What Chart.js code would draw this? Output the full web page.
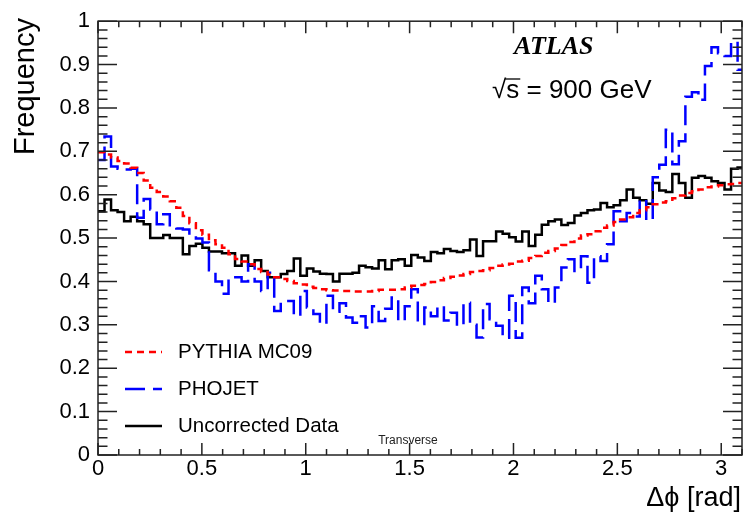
<!DOCTYPE html>
<html>
<head>
<meta charset="utf-8">
<script src="https://cdn.jsdelivr.net/npm/chart.js@4.4.1/dist/chart.umd.min.js"></script>
<style>
  html, body { margin: 0; padding: 0; background: #fff; }
  #contenedor { width: 744px; height: 518px; }
</style>
</head>
<body>
<div id="contenedor"><canvas id="grafico" width="744" height="518"></canvas></div>
<script>
// 100 bins entre 0 y pi
const BIN_WIDTH = Math.PI / 100;

const pythiaMC09 = [
  0.698, 0.693, 0.686, 0.678, 0.672, 0.662, 0.650, 0.633, 0.616, 0.606,
  0.596, 0.585, 0.570, 0.551, 0.534, 0.518, 0.508, 0.495, 0.486, 0.478,
  0.463, 0.452, 0.446, 0.440, 0.429, 0.422, 0.416, 0.410, 0.406, 0.401,
  0.396, 0.393, 0.388, 0.385, 0.382, 0.380, 0.379, 0.378, 0.378, 0.377,
  0.377, 0.377, 0.378, 0.381, 0.381, 0.381, 0.382, 0.386, 0.390, 0.392,
  0.394, 0.399, 0.403, 0.408, 0.411, 0.414, 0.417, 0.422, 0.424, 0.426,
  0.431, 0.436, 0.439, 0.441, 0.446, 0.448, 0.454, 0.459, 0.466, 0.470,
  0.476, 0.484, 0.491, 0.499, 0.506, 0.509, 0.516, 0.524, 0.529, 0.537,
  0.543, 0.548, 0.558, 0.564, 0.571, 0.578, 0.582, 0.585, 0.592, 0.598,
  0.604, 0.608, 0.612, 0.617, 0.619, 0.622, 0.624, 0.625, 0.627, 0.628
];

const phojet = [
  0.680, 0.734, 0.665, 0.660, 0.658, 0.660, 0.547, 0.590, 0.566, 0.532,
  0.555, 0.524, 0.522, 0.520, 0.505, 0.499, 0.490, 0.426, 0.400, 0.372,
  0.410, 0.410, 0.400, 0.440, 0.400, 0.378, 0.420, 0.332, 0.355, 0.355,
  0.321, 0.378, 0.340, 0.325, 0.302, 0.367, 0.330, 0.350, 0.317, 0.305,
  0.320, 0.294, 0.343, 0.309, 0.337, 0.363, 0.309, 0.343, 0.382, 0.302,
  0.340, 0.320, 0.343, 0.310, 0.328, 0.298, 0.351, 0.300, 0.271, 0.348,
  0.313, 0.298, 0.270, 0.367, 0.270, 0.386, 0.350, 0.413, 0.382, 0.350,
  0.386, 0.432, 0.451, 0.424, 0.458, 0.397, 0.458, 0.447, 0.486, 0.562,
  0.539, 0.558, 0.550, 0.589, 0.541, 0.640, 0.669, 0.750, 0.670, 0.723,
  0.826, 0.836, 0.819, 0.897, 0.940, 0.926, 0.920, 0.953, 0.888, 0.888
];

const uncorrectedData = [
  0.562, 0.589, 0.564, 0.560, 0.539, 0.549, 0.539, 0.532, 0.500, 0.500,
  0.507, 0.500, 0.500, 0.463, 0.482, 0.487, 0.478, 0.469, 0.469, 0.465,
  0.465, 0.436, 0.460, 0.436, 0.449, 0.424, 0.410, 0.410, 0.417, 0.424,
  0.453, 0.413, 0.430, 0.423, 0.418, 0.417, 0.400, 0.418, 0.418, 0.420,
  0.436, 0.433, 0.430, 0.449, 0.428, 0.449, 0.451, 0.436, 0.461, 0.455,
  0.447, 0.468, 0.465, 0.475, 0.470, 0.468, 0.472, 0.497, 0.459, 0.493,
  0.493, 0.515, 0.510, 0.502, 0.492, 0.515, 0.482, 0.508, 0.531, 0.539,
  0.543, 0.530, 0.535, 0.552, 0.558, 0.564, 0.566, 0.581, 0.571, 0.576,
  0.587, 0.612, 0.593, 0.587, 0.579, 0.627, 0.610, 0.606, 0.648, 0.627,
  0.593, 0.639, 0.643, 0.639, 0.631, 0.627, 0.612, 0.660, 0.663, 0.663
];

const xTicks = [0, 0.5, 1, 1.5, 2, 2.5, 3];
const yTicks = [0, 0.1, 0.2, 0.3, 0.4, 0.5, 0.6, 0.7, 0.8, 0.9, 1];
const seriesLabels = ['PYTHIA MC09', 'PHOJET', 'Uncorrected Data'];

const FUENTE = "'Liberation Sans', Arial, Helvetica, sans-serif";

// puntos en el borde izquierdo de cada bin, mas el borde final
const aHistograma = (valores) => {
    const puntos = valores.map((v, i) => ({ x: i * BIN_WIDTH, y: v }));
    puntos.push({ x: valores.length * BIN_WIDTH, y: valores[valores.length - 1] });
    return puntos;
};

// marco estilo ROOT: ticks hacia dentro, leyenda y textos
const marcoRoot = {
    id: 'marcoRoot',
    afterDatasetsDraw(chart) {
        const { ctx, chartArea: a, scales: { x, y } } = chart;
        ctx.save();
        ctx.strokeStyle = '#222';
        ctx.lineWidth = 1.5;
        ctx.setLineDash([]);
        ctx.strokeRect(a.left, a.top, a.right - a.left, a.bottom - a.top);

        ctx.beginPath();
        for (let k = 0; k <= 31; k++) {
            const px = x.getPixelForValue(k / 10);
            const largo = k % 5 === 0 ? 12 : 6;
            ctx.moveTo(px, a.bottom); ctx.lineTo(px, a.bottom - largo);
            ctx.moveTo(px, a.top); ctx.lineTo(px, a.top + largo);
        }
        for (let k = 0; k <= 50; k++) {
            const py = y.getPixelForValue(k / 50);
            const largo = k % 5 === 0 ? 19 : 9.5;
            ctx.moveTo(a.left, py); ctx.lineTo(a.left + largo, py);
            ctx.moveTo(a.right, py); ctx.lineTo(a.right - largo, py);
        }
        ctx.stroke();

        // leyenda
        const filas = [352, 389, 426];
        ctx.font = '20.5px ' + FUENTE;
        ctx.textBaseline = 'middle';
        ctx.textAlign = 'left';
        chart.data.datasets.forEach((ds, i) => {
            ctx.save();
            ctx.strokeStyle = ds.borderColor;
            ctx.lineWidth = ds.borderWidth;
            ctx.setLineDash(ds.borderDash || []);
            ctx.beginPath();
            ctx.moveTo(125, filas[i]);
            ctx.lineTo(162, filas[i]);
            ctx.stroke();
            ctx.restore();
            ctx.fillStyle = '#000';
            ctx.fillText(ds.label, 178, filas[i]);
        });

        // ATLAS y energia
        ctx.textBaseline = 'alphabetic';
        ctx.font = "italic bold 26px 'Liberation Serif', 'Times New Roman', serif";
        ctx.fillText('ATLAS', 514, 54);

        ctx.font = '26px ' + FUENTE;
        const raiz = '\u221A';
        ctx.fillText(raiz + 's = 900 GeV', 492, 98);
        const wRaiz = ctx.measureText(raiz).width;
        const wS = ctx.measureText('s').width;
        ctx.beginPath();
        ctx.lineWidth = 1.3;
        ctx.strokeStyle = '#000';
        ctx.moveTo(492 + wRaiz - 1, 79);
        ctx.lineTo(492 + wRaiz + wS + 1, 79);
        ctx.stroke();

        // titulos de ejes
        ctx.font = '27px ' + FUENTE;
        ctx.textAlign = 'right';
        ctx.fillText('\u0394\u03D5 [rad]', 741, 506);

        ctx.save();
        ctx.font = '29px ' + FUENTE;
        ctx.translate(34, 18);
        ctx.rotate(-Math.PI / 2);
        ctx.textAlign = 'right';
        ctx.fillText('Frequency', 0, 0);
        ctx.restore();

        ctx.font = '12px ' + FUENTE;
        ctx.textAlign = 'center';
        ctx.fillStyle = '#222';
        ctx.fillText('Transverse', 408, 444);
        ctx.restore();
    }
};

document.addEventListener('DOMContentLoaded', function() {
    const grafico = document.getElementById('grafico').getContext('2d');

    window.graficaDeltaPhi = new Chart(grafico, {
        type: 'line',
        data: {
            datasets: [
                {
                    label: seriesLabels[0],
                    data: aHistograma(pythiaMC09),
                    borderColor: '#ff0000',
                    borderWidth: 2.5,
                    borderDash: [7, 5],
                    stepped: true,
                    pointRadius: 0,
                    fill: false
                },
                {
                    label: seriesLabels[1],
                    data: aHistograma(phojet),
                    borderColor: '#0000ff',
                    borderWidth: 2.5,
                    borderDash: [20, 8],
                    stepped: true,
                    pointRadius: 0,
                    fill: false
                },
                {
                    label: seriesLabels[2],
                    data: aHistograma(uncorrectedData),
                    borderColor: '#000000',
                    borderWidth: 2.5,
                    stepped: true,
                    pointRadius: 0,
                    fill: false
                }
            ]
        },
        options: {
            responsive: false,
            animation: false,
            layout: { padding: { top: 19, right: 2, left: 0, bottom: 0 } },
            plugins: {
                legend: { display: false },
                tooltip: { enabled: false }
            },
            scales: {
                x: {
                    type: 'linear',
                    min: 0,
                    max: 3.1,
                    grid: { display: false, drawTicks: false },
                    border: { display: false },
                    afterBuildTicks: (scale) => { scale.ticks = xTicks.map(v => ({ value: v })); },
                    afterFit: (scale) => { scale.height = 63; },
                    ticks: {
                        autoSkip: false,
                        maxRotation: 0,
                        padding: 1,
                        color: '#000',
                        font: { family: FUENTE, size: 22 },
                        callback: (v) => String(v)
                    }
                },
                y: {
                    type: 'linear',
                    min: 0,
                    max: 1,
                    grid: { display: false, drawTicks: false },
                    border: { display: false },
                    afterBuildTicks: (scale) => { scale.ticks = yTicks.map(v => ({ value: v })); },
                    afterFit: (scale) => { scale.width = 98; },
                    ticks: {
                        autoSkip: false,
                        padding: 8,
                        color: '#000',
                        font: { family: FUENTE, size: 22 },
                        callback: (v) => String(v)
                    }
                }
            }
        },
        plugins: [marcoRoot]
    });
});
</script>
</body>
</html>
